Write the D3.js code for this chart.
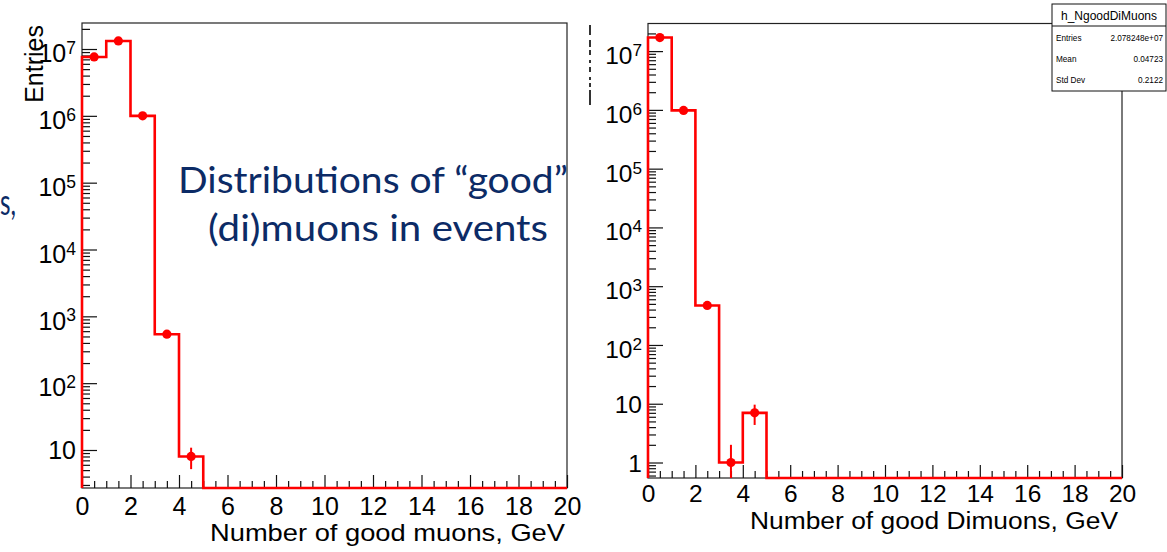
<!DOCTYPE html>
<html><head><meta charset="utf-8">
<script src="https://cdn.jsdelivr.net/npm/d3@7"></script>
<style>html,body{margin:0;padding:0;background:#fff;overflow:hidden} svg{display:block}</style>
</head><body>
<svg id="c" width="1167" height="552"></svg>
<script>
// ---- data ----
const binLow = [0,1,2,3,4,5,6,7,8,9,10,11,12,13,14,15,16,17,18,19];
const muonCounts   = [7.6e6, 1.32e7, 1.0e6, 540, 8, 0,0,0,0,0,0,0,0,0,0,0,0,0,0,0];
const dimuonCounts = [1.7e7, 9.8e5, 470, 1, 7, 0,0,0,0,0,0,0,0,0,0,0,0,0,0,0];
const xTicks = [0,2,4,6,8,10,12,14,16,18,20];
const xTickLabels = ["0","2","4","6","8","10","12","14","16","18","20"];
const leftYTicks = [10,1e2,1e3,1e4,1e5,1e6,1e7];
const leftYExp   = [1,2,3,4,5,6,7];
const rightYTicks = [1,10,1e2,1e3,1e4,1e5,1e6,1e7];
const rightYExp   = [0,1,2,3,4,5,6,7];
const statsLabels = ["Entries","Mean","Std Dev"];
const statsValues = ["2.078248e+07","0.04723","0.2122"];
const statsTitle = "h_NgoodDiMuons";
const leftXTitle = "Number of good muons, GeV";
const rightXTitle = "Number of good Dimuons, GeV";
const overlayLines = ["Distributions of \u201cgood\u201d", "(di)muons in events"];

const svg = d3.select("#c");
const AX_FONT = "'Liberation Sans', Arial, Helvetica, sans-serif";
const RED = "#ff0000";
const NAVY = "#0c2b66";

function drawPanel(cfg, counts, yTicks, yExp, xTitle) {
  const x = d3.scaleLinear().domain([0,20]).range([cfg.x0, cfg.x1]);
  const y = d3.scaleLog().domain(cfg.yDomain).range([cfg.y1, cfg.y0]);
  const g = svg.append("g");

  // frame
  g.append("rect").attr("x", cfg.x0).attr("y", cfg.y0)
    .attr("width", cfg.x1 - cfg.x0).attr("height", cfg.y1 - cfg.y0)
    .attr("fill", "none").attr("stroke", "#222").attr("stroke-width", 1.2);

  // x axis
  const xMinor = x.ticks(40).filter(v => Math.abs(v % 2) > 1e-9);
  const gxMinor = g.append("g").attr("transform", `translate(0,${cfg.y1})`)
    .call(d3.axisBottom(x).tickValues(xMinor).tickSize(-7).tickFormat(""));
  const gx = g.append("g").attr("transform", `translate(0,${cfg.y1})`)
    .call(d3.axisBottom(x).tickValues(xTicks).tickSize(-13)
      .tickFormat((d,i) => xTickLabels[i]).tickPadding(cfg.xPad));
  [gxMinor, gx].forEach(a => { a.select(".domain").remove(); a.selectAll("line").attr("stroke","#111").attr("stroke-width",1.2); });
  gx.selectAll("text").attr("font-family", AX_FONT).attr("font-size", cfg.fs).attr("fill", "#000");

  // y axis
  const [lo, hi] = cfg.yDomain;
  const yMinor = [];
  for (let k = Math.floor(Math.log10(lo)); k <= Math.ceil(Math.log10(hi)); k++) {
    for (let m = 2; m <= 9; m++) { const v = m * Math.pow(10, k); if (v >= lo && v <= hi) yMinor.push(v); }
  }
  const gyMinor = g.append("g").attr("transform", `translate(${cfg.x0},0)`)
    .call(d3.axisLeft(y).tickValues(yMinor).tickSize(-8).tickFormat(""));
  const gy = g.append("g").attr("transform", `translate(${cfg.x0},0)`)
    .call(d3.axisLeft(y).tickValues(yTicks).tickSize(-15).tickFormat(""));
  [gyMinor, gy].forEach(a => { a.select(".domain").remove(); a.selectAll("line").attr("stroke","#111").attr("stroke-width",1.2); });

  // y labels with superscripts
  yTicks.forEach((v, i) => {
    const e = yExp[i];
    const t = g.append("text").attr("x", cfg.labelRight).attr("text-anchor", "end")
      .attr("font-family", AX_FONT).attr("font-size", cfg.fs).attr("fill", "#000");
    if (e <= 1) {
      t.attr("y", y(v) + cfg.fs * 0.38).text(e === 0 ? "1" : "10");
    } else {
      t.attr("y", y(v) + cfg.fs * 0.53);
      t.append("tspan").text("10");
      t.append("tspan").attr("font-size", cfg.fs * 0.7).attr("dy", -cfg.fs * 0.33).text(String(e));
    }
  });

  // x title
  g.append("text").attr("x", cfg.titleRight).attr("y", cfg.titleBase)
    .attr("text-anchor", "end").attr("font-family", AX_FONT).attr("font-size", cfg.tfs)
    .attr("textLength", cfg.titleLen).attr("lengthAdjust", "spacingAndGlyphs")
    .attr("fill", "#000").text(xTitle);

  // histogram step line
  const yc = v => (v > 0 ? Math.min(y(v), cfg.y1) : cfg.y1);
  const pts = [[x(binLow[0]), cfg.y1]];
  binLow.forEach((b, i) => { pts.push([x(b), yc(counts[i])]); pts.push([x(b + 1), yc(counts[i])]); });
  g.append("path").attr("d", d3.line()(pts)).attr("fill", "none")
    .attr("stroke", RED).attr("stroke-width", 2.6).attr("stroke-linejoin", "miter");

  // error bars + markers
  binLow.forEach((b, i) => {
    const v = counts[i];
    if (v <= 0) return;
    const s = Math.sqrt(v);
    const cx = x(b + 0.5);
    g.append("line").attr("x1", cx).attr("x2", cx)
      .attr("y1", yc(v + s)).attr("y2", yc(v - s))
      .attr("stroke", RED).attr("stroke-width", 2);
    g.append("circle").attr("cx", cx).attr("cy", y(v)).attr("r", 4.6).attr("fill", RED);
  });
  return g;
}

const leftCfg = { x0: 82, x1: 567, y0: 23, y1: 488, yDomain: [2.7, 2.45e7],
  labelRight: 76, xPad: 9, fs: 25, tfs: 24, titleLen: 355, titleRight: 565, titleBase: 541 };
const rightCfg = { x0: 648, x1: 1122, y0: 23.5, y1: 478, yDomain: [0.545, 2.95e7],
  labelRight: 642, xPad: 6.5, fs: 24.5, tfs: 23.5, titleLen: 368, titleRight: 1118, titleBase: 529 };

drawPanel(leftCfg, muonCounts, leftYTicks, leftYExp, leftXTitle);
drawPanel(rightCfg, dimuonCounts, rightYTicks, rightYExp, rightXTitle);

// left y title
svg.append("text").attr("transform", "translate(43,25) rotate(-90)")
  .attr("text-anchor", "end").attr("font-family", AX_FONT).attr("font-size", 25)
  .attr("fill", "#000").text("Entries");

// squeezed right y title remnant
svg.append("line").attr("x1", 590).attr("x2", 590).attr("y1", 25).attr("y2", 105)
  .attr("stroke", "#000").attr("stroke-width", 1.6)
  .attr("stroke-dasharray", "10 5 7 3 5 5 3 4 5 5 3 3 4 3 15");

// stats box
const sb = svg.append("g");
sb.append("rect").attr("x", 1052).attr("y", 4).attr("width", 114).attr("height", 87)
  .attr("fill", "#fff").attr("stroke", "#111").attr("stroke-width", 1);
sb.append("line").attr("x1", 1052).attr("x2", 1166).attr("y1", 26).attr("y2", 26)
  .attr("stroke", "#111").attr("stroke-width", 1);
sb.append("text").attr("x", 1109).attr("y", 19.5).attr("text-anchor", "middle")
  .attr("font-family", AX_FONT).attr("font-size", 12).attr("fill", "#000").text(statsTitle);
statsLabels.forEach((lab, i) => {
  const yy = 41 + i * 21;
  sb.append("text").attr("x", 1056).attr("y", yy).attr("font-family", AX_FONT)
    .attr("font-size", 8.2).attr("fill", "#000").text(lab);
  sb.append("text").attr("x", 1163).attr("y", yy).attr("text-anchor", "end").attr("font-family", AX_FONT)
    .attr("font-size", 8.2).attr("fill", "#000").text(statsValues[i]);
});

// overlay slide text
const OV_FONT = "Lato, 'Open Sans', sans-serif";
svg.append("text").attr("x", 178).attr("y", 193).attr("font-family", OV_FONT)
  .attr("font-size", 37).attr("fill", NAVY)
  .attr("textLength", 390).attr("lengthAdjust", "spacingAndGlyphs").text(overlayLines[0]);
svg.append("text").attr("x", 208).attr("y", 241).attr("font-family", OV_FONT)
  .attr("font-size", 37).attr("fill", NAVY)
  .attr("textLength", 340).attr("lengthAdjust", "spacingAndGlyphs").text(overlayLines[1]);
svg.append("text").attr("x", 0).attr("y", 215).attr("font-family", OV_FONT)
  .attr("font-size", 36).attr("fill", NAVY)
  .attr("textLength", 16).attr("lengthAdjust", "spacingAndGlyphs").text("s,");
</script>
</body></html>
